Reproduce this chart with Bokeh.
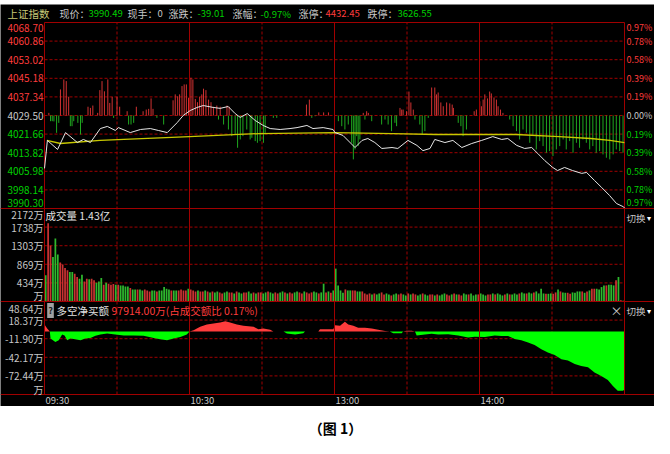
from bokeh.plotting import figure
from bokeh.models import Range1d, ColumnDataSource, LabelSet, Label
from bokeh.layouts import column
from bokeh.embed import file_html
from bokeh.resources import INLINE
from bokeh.core.properties import value

# ---------------- data ----------------
PREV_CLOSE = 4029.50
PRICE_TICKS = [3990.30, 3998.14, 4005.98, 4013.82, 4021.66, 4029.50,
               4037.34, 4045.18, 4053.02, 4060.86, 4068.70]
VOL_TICKS = [0, 434, 869, 1303, 1738, 2172]
VOL_TICK_LABELS = ["万", "434万", "869万", "1303万", "1738万", "2172万"]
NET_TICKS = [-102.71, -72.44, -42.17, -11.90, 18.37, 48.64]
NET_TICK_LABELS = ["万", "-72.44万", "-42.17万", "-11.90万", "18.37万", "48.64万"]
TIME_TICKS = [0, 60, 120, 180]
TIME_LABELS = ["09:30", "10:30", "13:00", "14:00"]
GRID_MINUTES = [0, 30, 60, 90, 120, 150, 180, 210, 240]

PRICE_MIN = [0, 1.2, 5.4, 8.7, 13.6, 16.1, 19.0, 23.1, 26.0, 29.3, 30.6, 35.5, 39.7, 43.8, 47.1,
             50.8, 54.9, 57.4, 60.3, 63.2, 65.7, 69.8, 72.7, 76.0, 78.9, 81.0, 83.9, 87.2, 90.5, 93.4,
             97.5, 101.6, 104.5, 108.6, 111.1, 115.3, 119.4, 120.2, 123.5, 128.5, 131.4, 133.8, 136.7,
             139.6, 143.8, 146.2, 150.4, 154.1, 156.6, 159.5, 161.5, 165.7, 169.0, 172.7, 176.8, 180.9,
             185.5, 189.2, 191.7, 195.4, 198.7, 201.6, 204.1, 207.0, 210.3, 212.3, 215.2, 218.5, 222.3,
             224.3, 227.6, 230.5, 233.8, 236.7, 239.6, 240]
PRICE_VAL = [4007.2, 4019.0, 4015.2, 4022.3, 4018.1, 4019.4, 4018.1, 4024.0, 4024.9, 4023.2, 4024.4,
             4022.3, 4023.6, 4024.0, 4023.2, 4022.3, 4026.5, 4029.5, 4031.6, 4032.9, 4033.7, 4032.9,
             4032.5, 4033.3, 4030.3, 4028.7, 4030.3, 4027.4, 4025.3, 4024.0, 4023.6, 4024.0, 4024.4,
             4025.3, 4024.0, 4024.4, 4023.6, 4022.3, 4021.1, 4016.0, 4019.0, 4019.8, 4018.1, 4015.6,
             4016.0, 4015.6, 4019.0, 4016.9, 4014.7, 4015.6, 4019.4, 4018.1, 4019.0, 4016.0, 4017.7,
             4019.0, 4020.6, 4019.4, 4019.8, 4016.9, 4015.6, 4016.0, 4013.5, 4010.5, 4007.6, 4006.3,
             4007.6, 4006.3, 4005.1, 4005.5, 4002.1, 3999.2, 3995.8, 3992.4, 3991.0, 3990.49]

AVG_MIN = [1, 6.6, 23, 60, 89, 120, 144, 162, 195, 213, 226, 234, 240]
AVG_VAL = [4019.0, 4017.7, 4019.0, 4020.6, 4021.9, 4022.3, 4021.9, 4021.5, 4021.5, 4020.6, 4019.8,
           4019.0, 4018.1]

# red/green breadth bars around the previous close (price points)
BAR_MIN = [1.8, 6.6, 8.0, 9.0, 10.0, 18.0, 19.0, 20.0, 22.0, 22.9, 23.8, 24.8, 26.2, 27.0, 28.0, 30.0,
           31.1, 34.2, 38.0, 40.8, 42.1, 43.1, 44.1, 44.9, 53.2, 54.1, 55.1, 55.9, 56.9, 57.8, 58.7,
           59.6, 60.6, 61.4, 62.4, 63.3, 64.2, 65.1, 65.8, 66.8, 67.9, 68.9, 69.9, 71.3, 72.7, 75.5,
           76.4, 108.4, 109.6, 113.5, 115.5, 117.5, 131.9, 133.3, 134.0, 147.1, 147.8, 148.4, 149.8,
           150.8, 151.6, 152.6, 160.2, 161.5, 162.2, 162.9, 164.0, 165.0, 166.4, 167.7, 168.7, 169.2,
           177.8, 178.7, 180.1, 180.8, 181.5, 182.2, 183.3, 184.2, 184.9, 186.0, 187.0, 187.7, 188.7,
           189.7,
           2.5, 3.2, 3.9, 5.0, 5.9, 10.7, 11.4, 12.1, 13.8, 14.9, 15.6, 28.6, 34.8, 35.8, 36.9, 46.5,
           49.3, 72.0, 74.1, 76.1, 77.5, 78.9, 79.9, 81.0, 82.1, 83.7, 85.1, 85.8, 87.2, 88.1, 89.2,
           90.6, 91.3, 94.7, 96.1, 110.6, 112.0, 121.6, 123.0, 124.3, 125.7, 127.1, 127.8, 128.5, 129.2,
           129.8, 130.5, 132.6, 135.4, 139.5, 140.9, 142.2, 143.6, 145.0, 145.7, 153.3, 155.3, 156.3,
           157.4, 158.8, 171.2, 172.3, 173.2, 174.6, 192.5, 193.9, 195.3, 196.6, 198.0, 199.4, 200.8,
           202.1, 203.5, 204.9, 206.3, 207.7, 209.0, 210.4, 211.8, 213.2, 214.6, 215.9, 217.3, 218.7,
           220.1, 221.4, 222.8, 224.2, 225.6, 226.9, 228.3, 229.7, 231.1, 232.5, 233.9, 235.3, 236.6,
           238.0, 239.4]
BAR_VAL = [1.1, 11.0, 15.2, 14.5, 7.9, 3.7, 3.2, 4.2, 1.1, 10.7, 14.5, 10.2, 15.2, 5.3, 7.9, 7.9,
           3.7, 1.8, 3.7, 1.8, 2.5, 2.8, 7.2, 2.8, 6.4, 8.9, 8.1, 8.9, 12.4, 13.1, 13.1,
           7.5, 15.9, 15.2, 7.0, 5.6, 7.9, 8.9, 11.3, 10.7, 6.7, 5.6, 3.7, 4.2, 3.7, 4.2,
           3.7, 4.6, 6.7, 1.3, 1.3, 1.3, 1.1, 1.8, 1.1, 3.2, 2.5, 2.5, 1.8,
           10.1, 5.5, 2.5, 11.8, 11.8, 8.9, 9.7, 5.5, 3.9, 5.5, 5.1, 4.6, 3.2,
           1.8, 2.5, 6.0, 3.9, 6.7, 8.9, 7.2, 10.1, 9.3, 7.6, 6.7, 3.9, 2.5,
           1.1,
           -2.4, -2.4, -2.5, -7.3, -3.1, -4.5, -4.5, -2.4, -3.1, -8.0, -3.1, -1.0, -3.8, -3.8, -3.1, -1.0,
           -3.8, -1.7, -3.8, -5.9, -8.7, -8.0, -13.6, -10.1, -8.7, -5.9, -10.1, -9.4, -10.8, -11.5, -10.8,
           -11.5, -7.3, -1.0, -1.0, -1.0, -0.3, -2.4, -4.5, -5.9, -3.8, -11.5, -18.5, -14.3, -8.7,
           -12.9, -10.1, -1.7, -2.4, -3.8, -1.7, -3.8, -6.6, -3.1, -4.5, -1.7, -3.8, -8.0,
           -6.6, -1.0, -3.1, -4.5, -8.7, -5.9, -1.7, -4.5, -6.6, -10.1, -5.9, -7.3, -11.5,
           -8.7, -14.3, -10.8, -12.9, -15.7, -15.0, -17.1, -14.3, -12.9, -10.1, -14.3, -10.8, -15.7,
           -11.5, -13.6, -10.1, -11.5, -14.3, -12.9, -15.7, -15.0, -16.4, -17.8, -18.5, -16.4, -14.3,
           -15.0, -15.7]

# volume per minute (万) and direction r = up, g = down
VOL = [611, 1826, 1300, 1041, 1473, 1097, 909, 862, 783, 729, 689, 689, 650, 572, 533, 627, 470, 533,
       517, 533, 494, 439, 470, 548, 392, 439, 416, 392, 408, 392, 392, 376, 376,
       352, 352, 313, 282, 282, 282, 282, 258, 282, 258, 235, 258, 258, 235, 258, 258, 337, 298, 282,
       258, 258, 258, 258, 282, 258, 258, 298, 282, 258, 235, 258, 235, 235, 258,
       235, 212, 235, 212, 235, 212, 188, 212, 235, 212, 212, 188, 235, 212, 188, 212, 212, 235, 188,
       212, 188, 212, 212, 188, 212, 235, 212, 188, 212, 188, 212, 235, 212, 188, 212, 188, 212, 235,
       212, 188, 235, 212, 188, 212, 235, 212, 188, 212, 416, 212, 235, 204, 258,
       768, 376, 258, 204, 282, 258, 258, 258, 258, 235, 235, 235,
       188, 165, 188, 165, 188, 165, 188, 212, 165, 188, 165, 141, 165, 188, 165, 188, 165, 141, 188,
       165, 188, 165, 141, 165, 188, 165, 141, 165, 165, 141, 165, 141, 165, 188, 165, 141, 165, 188,
       165, 165, 141, 188, 165, 165, 188, 141, 165, 165, 188, 165, 141, 165, 165, 188, 165, 188, 165,
       141, 165, 188, 165, 165, 188, 165, 188, 212, 188, 188, 212, 188, 212, 235, 188,
       298, 188, 180, 180, 188, 180, 212, 282, 235, 212, 204, 204, 180, 212, 204, 235, 235, 235, 204,
       235, 258,
       298, 298, 298, 282, 337, 376, 376, 392, 392, 376, 494, 572, 30, 20]
VOL_DIR = ("grrgggrrrrggrrggrrgrrgggrgrrrgrgg"
           "ggrggrggrrrggrgggggrggrrrrgrrrgrrgr"
           "grggrrggrrgrggrrggrgrrggrggrrggrgrrggrrgrrrggrggrgrgggg"
           "grggrrggrrrr"
           "grggrrggrggrrggrgrrggrggrrgrgggrrgrgrrggrgggrgggrrgrgggrgrgggrggrggrggggr"
           "ggrrgrggrrggggrgrgrrg"
           "gggrgggrgrgg")

NET_MIN = [0.0, 1.1, 2.2, 2.5, 4.5, 5.9, 7.3, 8.3, 9.4, 10.7, 12.1, 14.9, 16.9, 19.0, 21.1, 23.1,
           25.9, 29.3, 32.8, 36.9, 41.0, 45.2, 47.9, 50.7, 53.4, 56.2, 58.9, 60.0, 61.7, 64.4, 67.2,
           69.9, 72.7, 74.8, 76.8, 79.6, 82.3, 86.5, 88.5, 90.6, 93.4, 94.7, 98.9, 100.3, 103.7, 107.1,
           107.8, 113.3, 114.0, 119.5, 120.2, 122.3, 124.3, 125.7, 127.8, 129.8, 132.6, 135.4, 138.1,
           140.9, 142.9, 144.3, 147.8, 148.4, 149.8, 151.9, 153.3, 154.0, 157.4, 160.2, 162.9, 167.0,
           171.2, 175.3, 178.0, 182.2, 186.3, 189.1, 191.8, 194.6, 197.3, 200.1, 202.8, 205.6, 208.3,
           211.1, 213.9, 216.6, 219.4, 222.1, 224.9, 227.6, 230.4, 233.1, 235.2, 237.2, 239.3, 240.0]
NET_VAL = [11.3, 4.7, 0.0, -11.6, -17.1, -14.4, -5.1, -6.5, -14.4, -11.6, -12.2, -14.4, -11.6, -10.6,
           -7.3, -5.1, -3.5, -5.1, -6.5, -6.5, -7.3, -10.6, -12.8, -14.4, -11.6, -9.0, -5.1, 0.0, 2.0,
           7.4, 11.3, 12.9, 14.5, 16.7, 14.5, 11.3, 9.0, 7.4, 3.6, 4.7, 2.5, 0.0, 0.0, -3.5, -5.1, -3.0,
           0.0, 0.0, 3.6, 3.6, 10.1, 9.0, 15.6, 11.3, 9.0, 5.8, 5.8, 4.7, 2.5, 0.5, 0.0, -2.9, -2.9,
           0.0, 1.0, 1.0, 0.0, -6.5, -5.1, -4.0, -5.1, -4.5, -6.5, -9.9, -8.8, -9.0, -6.5, -7.5, -7.5,
           -12.2, -14.4, -18.2, -22.0, -29.0, -34.5, -38.3, -45.3, -47.5, -53.0, -56.2, -58.4, -67.1,
           -72.6, -79.1, -88.9, -96.5, -96.5, -95.0]

# ---------------- style / layout ----------------
W, BL, BR, BT, BB = 654, 44, 30, 18, 12     # canvas width and margins around the panels
FH = 372                                      # height of the three stacked panels
H = BT + FH + BB
FW = W - BL - BR
PXPM = FW / 240.0
CJK = "Noto Sans CJK SC"
GRID = "#a00000"
RED_TXT = "#ff3c3c"
GREEN_TXT = "#00d000"
GREY_TXT = "#c8c8c8"


def panel_range(lo, hi, f0, f1):
    """range whose [lo, hi] occupies fractions f0..f1 of the panel stack, padded to the canvas"""
    inner = (hi - lo) / (f1 - f0)
    s = lo - f0 * inner
    e = s + inner
    return Range1d(s - BB / FH * inner, e + BT / FH * inner), (s, e)


price_rng, (P_LO, P_HI) = panel_range(PRICE_TICKS[0], PRICE_TICKS[-1], 0.5, 1.0)
vol_rng, _ = panel_range(VOL_TICKS[0], VOL_TICKS[-1], 0.25, 0.5)
net_rng, _ = panel_range(NET_TICKS[0], NET_TICKS[-1], 0.0, 0.25)
X_LO, X_HI = -BL / PXPM, 240 + BR / PXPM

p = figure(width=W, height=H, x_range=Range1d(X_LO, X_HI), y_range=price_rng,
           x_axis_type=None, y_axis_type=None, toolbar_location=None, output_backend="svg",
           min_border=0, background_fill_color="black", border_fill_color="black",
           outline_line_color=None, title=None)
p.margin = (4, 0, 0, 0)
p.extra_y_ranges = {"vol": vol_rng, "net": net_rng}


# dashed horizontal grid lines in each panel
def hgrid(ticks, rn):
    n = len(ticks) - 2
    p.segment(x0=[0] * n, x1=[240] * n, y0=ticks[1:-1], y1=ticks[1:-1], line_color=GRID,
              line_dash="3 2", line_width=1, y_range_name=rn)


hgrid(PRICE_TICKS, "default")
hgrid(VOL_TICKS, "vol")
hgrid(NET_TICKS, "net")

dashed = [m for m in GRID_MINUTES if m % 60 != 0]
solid = [m for m in GRID_MINUTES if m % 60 == 0 and 0 < m < 240]
p.segment(x0=dashed, x1=dashed, y0=[P_LO] * len(dashed), y1=[P_HI] * len(dashed),
          line_color=GRID, line_dash="3 2", line_width=1)

# breadth bars
bar_src = ColumnDataSource(dict(
    x=BAR_MIN, y0=[PREV_CLOSE] * len(BAR_MIN), y1=[PREV_CLOSE + v for v in BAR_VAL],
    c=["#d23232" if v > 0 else "#1fa81f" for v in BAR_VAL]))
p.segment(x0="x", y0="y0", x1="x", y1="y1", line_color="c", line_width=1, source=bar_src)

# volume
vol_src = ColumnDataSource(dict(
    x=[i + 0.5 for i in range(len(VOL))], top=VOL,
    c=["#c83232" if d == "r" else "#2eb82e" for d in VOL_DIR[:len(VOL)]]))
p.vbar(x="x", top="top", bottom=0, width=0.72, fill_color="c", line_color=None,
       source=vol_src, y_range_name="vol")

# net buy area
p.varea(x=NET_MIN, y1=[0] * len(NET_VAL), y2=[max(v, 0) for v in NET_VAL],
        fill_color="#ff3c3c", y_range_name="net")
p.varea(x=NET_MIN, y1=[min(v, 0) for v in NET_VAL], y2=[0] * len(NET_VAL),
        fill_color="#00ff00", y_range_name="net")

# solid hour lines, frame and separators on top of the bars
p.segment(x0=solid, x1=solid, y0=[P_LO] * len(solid), y1=[P_HI] * len(solid),
          line_color=GRID, line_width=1)
p.segment(x0=[0, 240, 0], x1=[0, 240, 240], y0=[P_LO, P_LO, P_HI], y1=[P_HI, P_HI, P_HI],
          line_color=GRID, line_width=1)
p.segment(x0=[X_LO], x1=[X_HI], y0=[PRICE_TICKS[0]], y1=[PRICE_TICKS[0]], line_color=GRID)
p.segment(x0=[X_LO], x1=[X_HI], y0=[VOL_TICKS[0]], y1=[VOL_TICKS[0]], line_color=GRID,
          y_range_name="vol")
p.segment(x0=[X_LO], x1=[X_HI], y0=[NET_TICKS[0]], y1=[NET_TICKS[0]], line_color=GRID,
          y_range_name="net")

# price & average lines
p.line(AVG_MIN, AVG_VAL, line_color="#c8c800", line_width=1.3)
p.line(PRICE_MIN, PRICE_VAL, line_color="#e6e6e6", line_width=1)


# axis labels (left / right)
def offsets(n, top, bottom):
    o = [0] * n
    o[0] = bottom
    o[-1] = top
    return o


LX = BL - 1
RX = BL + FW + 2
FS = value("10px")
price_src = ColumnDataSource(dict(
    y=PRICE_TICKS,
    t=[f"{v:.2f}" for v in PRICE_TICKS],
    pct=[f"{abs(v - PREV_CLOSE) / PREV_CLOSE * 100:.2f}%" for v in PRICE_TICKS],
    c=[RED_TXT if v > PREV_CLOSE + 0.001 else (GREEN_TXT if v < PREV_CLOSE - 0.001 else GREY_TXT)
       for v in PRICE_TICKS],
    o=offsets(len(PRICE_TICKS), -5, 6)))
p.add_layout(LabelSet(x=LX, x_units="screen", y="y", text="t", text_color="c", y_offset="o",
                      text_align="right", text_baseline="middle", text_font=value(CJK),
                      text_font_size=FS, source=price_src))
p.add_layout(LabelSet(x=RX, x_units="screen", y="y", text="pct", text_color="c",
                      y_offset="o", text_align="left", text_baseline="middle",
                      text_font=value(CJK), text_font_size=value("9px"), source=price_src))

vol_lab = ColumnDataSource(dict(y=VOL_TICKS, t=VOL_TICK_LABELS,
                                o=offsets(len(VOL_TICKS), -6, 6)))
p.add_layout(LabelSet(x=LX, x_units="screen", y="y", text="t", y_offset="o",
                      text_color=GREY_TXT, text_align="right", text_baseline="middle",
                      text_font=value(CJK), text_font_size=FS, source=vol_lab,
                      y_range_name="vol"))
net_lab = ColumnDataSource(dict(y=NET_TICKS, t=NET_TICK_LABELS,
                                o=offsets(len(NET_TICKS), -7, 5)))
p.add_layout(LabelSet(x=LX, x_units="screen", y="y", text="t", y_offset="o",
                      text_color=GREY_TXT, text_align="right", text_baseline="middle",
                      text_font=value(CJK), text_font_size=FS, source=net_lab,
                      y_range_name="net"))

time_src = ColumnDataSource(dict(x=TIME_TICKS, t=TIME_LABELS))
p.add_layout(LabelSet(x="x", y=BB - 5, y_units="screen", text="t", x_offset=1,
                      text_color=GREY_TXT, text_align="left", text_baseline="middle",
                      text_font=value(CJK), text_font_size=value("9.5px"), source=time_src))


def lab(txt, sx, sy, color, size="10.5px", align="left", **kw):
    p.add_layout(Label(x=sx, y=sy, x_units="screen", y_units="screen", text=txt,
                       text_color=color, text_font=CJK, text_font_size=size,
                       text_align=align, text_baseline="middle", **kw))


# header line: (text, left x, colour, font size)
HY = H - 9
header = [("上证指数", 7, "#c8c878", "10.5px"), ("现价：", 59, GREY_TXT, "10px"),
          ("3990.49", 88, GREEN_TXT, "9.5px"), ("现手：", 127, GREY_TXT, "10px"),
          ("0", 157, GREY_TXT, "9.5px"), ("涨跌：", 168, GREY_TXT, "10px"),
          ("-39.01", 197, GREEN_TXT, "9.5px"), ("涨幅：", 232, GREY_TXT, "10px"),
          ("-0.97%", 260, GREEN_TXT, "9.5px"), ("涨停：", 298, GREY_TXT, "10px"),
          ("4432.45", 325, RED_TXT, "9.5px"), ("跌停：", 367, GREY_TXT, "10px"),
          ("3626.55", 397, GREEN_TXT, "9.5px")]
for txt, sx, col, fs in header:
    lab(txt, sx, HY, col, size=fs)

# volume panel header
VY = BB + FH * 0.5 - 7
lab("成交量 1.43亿", BL + 1, VY, "#e0e0e0")
lab("切换", BL + FW + 2, VY - 2, GREY_TXT, size="9.5px")
lab("▾", BL + FW + 22, VY - 2, "#ffffff", size="8px")

# net panel header
NY = BB + FH * 0.25 - 9
lab("?", BL + 6, NY, "#202020", size="9px", align="center",
    background_fill_color="#a0a0a0", padding=1, text_font_style="bold")
lab("多空净买额", BL + 12, NY, "#e0e0e0")
lab("97914.00万(占成交额比 0.17%)", BL + 67, NY, RED_TXT)
lab("×", BL + FW - 8, NY, GREY_TXT, size="12px", align="center")
lab("切换", BL + FW + 2, NY, GREY_TXT, size="9.5px")
lab("▾", BL + FW + 22, NY, "#ffffff", size="8px")

# caption
CAP_H = 438 - 4 - H
cap = figure(width=W, height=CAP_H, x_range=Range1d(0, 1), y_range=Range1d(0, 1),
             x_axis_type=None, y_axis_type=None, toolbar_location=None, output_backend="svg",
             min_border=0, background_fill_color="white", border_fill_color="white",
             outline_line_color=None, title=None)
cap.add_layout(Label(x=335, x_units="screen", y=11, y_units="screen", text="（图 1）",
                     text_align="center", text_baseline="middle", text_font=CJK,
                     text_font_size="14px", text_font_style="bold", text_color="black"))

layout = column(p, cap, spacing=0)
open("out.html", "w").write(file_html(layout, INLINE))
